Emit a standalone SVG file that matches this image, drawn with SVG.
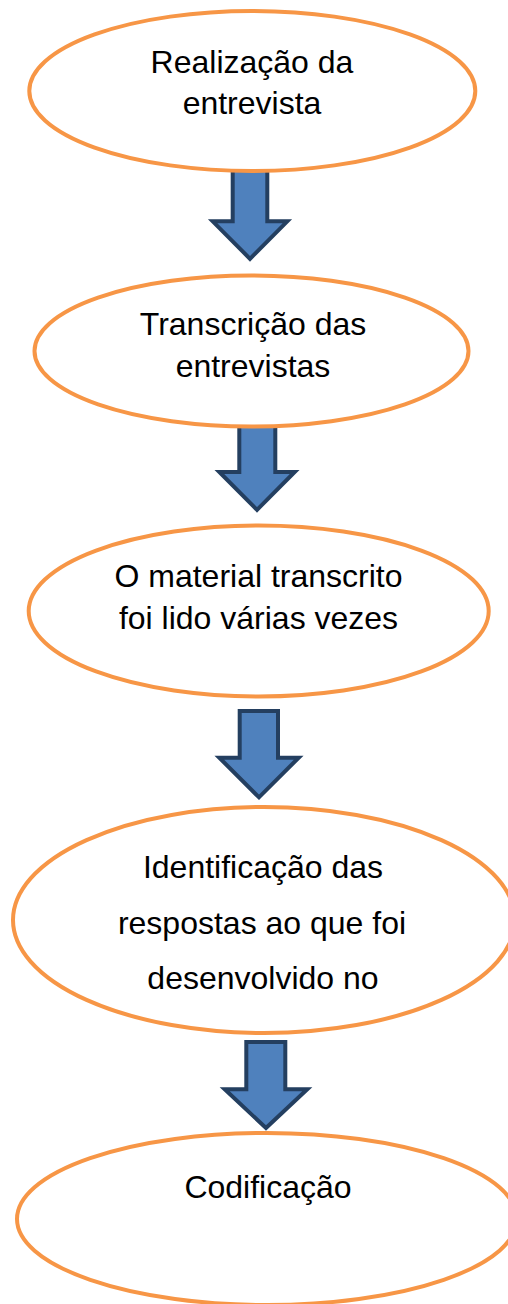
<svg xmlns="http://www.w3.org/2000/svg" width="508" height="1304" viewBox="0 0 508 1304">
<style>
.node ellipse{fill:#FFFFFF;stroke:#F79646;stroke-width:4}
.node text{font-family:"Liberation Sans",Arial,sans-serif;font-size:32px;fill:#000000;text-anchor:middle}
.arrow{fill:#4F81BD;stroke:#243F60;stroke-width:4;stroke-linejoin:miter}
</style>
<rect width="508" height="1304" fill="#FFFFFF"/>
<g id="connectors">
<path class="arrow" d="M232.7,170 L267.3,170 L267.3,221.3 L287.3,221.3 L250,258.8 L212.7,221.3 L232.7,221.3 Z"/>
<path class="arrow" d="M239.3,426 L275.3,426 L275.3,472 L294.7,472 L257,509.8 L219.3,472 L239.3,472 Z"/>
<path class="arrow" d="M239.7,711 L278,711 L278,757.7 L298.7,757.7 L259,797.3 L219.3,757.7 L239.7,757.7 Z"/>
<path class="arrow" d="M246.3,1042 L285.3,1042 L285.3,1089.3 L307.3,1089.3 L266,1128 L224.7,1089.3 L246.3,1089.3 Z"/>
</g>
<g id="node1" class="node">
<ellipse cx="252.3" cy="91" rx="223" ry="80"/>
<text x="252" y="73">Realização da</text>
<text x="252" y="114">entrevista</text>
</g>
<g id="node2" class="node">
<ellipse cx="251.5" cy="351" rx="217" ry="75.5"/>
<text x="253" y="335">Transcrição das</text>
<text x="253" y="377">entrevistas</text>
</g>
<g id="node3" class="node">
<ellipse cx="258.7" cy="611" rx="230" ry="85.5"/>
<text x="258.5" y="587">O material transcrito</text>
<text x="258.5" y="628.5">foi lido várias vezes</text>
</g>
<g id="node4" class="node">
<ellipse cx="264" cy="920" rx="251" ry="113"/>
<text x="263" y="878">Identificação das</text>
<text x="262" y="934">respostas ao que foi</text>
<text x="263" y="989">desenvolvido no</text>
</g>
<g id="node5" class="node">
<ellipse cx="267" cy="1219" rx="250" ry="86"/>
<text x="268" y="1198">Codificação</text>
</g>
</svg>
